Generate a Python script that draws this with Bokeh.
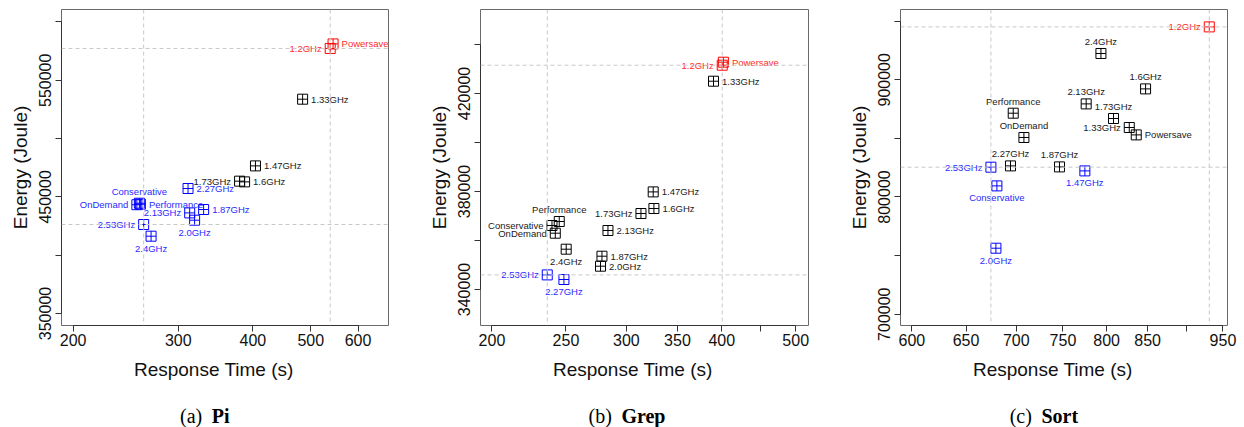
from bokeh.plotting import figure
from bokeh.layouts import row, column
from bokeh.models import Span, FixedTicker, ColumnDataSource, Range1d
from bokeh.embed import file_html
from bokeh.resources import INLINE
from bokeh.core.properties import value

# ---------------- data ----------------
# (a) Pi
pi_names = ["1.2GHz", "Powersave", "1.33GHz", "1.47GHz", "1.6GHz", "1.73GHz", "2.27GHz",
            "Conservative", "OnDemand", "Performance", "2.13GHz", "1.87GHz", "2.0GHz", "2.53GHz", "2.4GHz"]
pi_time = [539, 545, 484.6, 404, 387.4, 380, 311.5, 258.2, 255.7, 259.2, 313.5, 330.8, 319.5, 262.5, 270.1]
pi_energy = [577300, 581200, 533800, 476600, 462900, 463500, 457200, 444600, 443300, 443740,
             436280, 439190, 430020, 426330, 416300]
pi_group = ["r", "r", "k", "k", "k", "k", "b", "b", "b", "b", "b", "b", "b", "b", "b"]
pi_pos = [2, 4, 4, 4, 4, 2, 4, 3, 2, 4, 2, 4, 1, 2, 1]
pi_xticks = [200, 300, 400, 500, 600]
pi_xlabels = ["200", "300", "400", "500", "600"]
pi_yticks = [350000, 400000, 450000, 500000, 550000, 600000]
pi_ylabels = ["350000", "", "450000", "", "550000", ""]

# (b) Grep
grep_names = ["1.2GHz", "Powersave", "1.33GHz", "1.47GHz", "1.6GHz", "1.73GHz", "Performance",
              "Conservative", "OnDemand", "2.13GHz", "2.4GHz", "1.87GHz", "2.0GHz", "2.53GHz", "2.27GHz"]
grep_time = [400.6, 402.0, 390.2, 325.3, 326.0, 313.5, 245.0, 239.7, 242.1, 283.8, 250.2, 278.7, 277.5, 236.3, 248.5]
grep_energy = [431550, 432780, 425020, 379840, 373060, 371020, 367760, 366120, 362980, 364080,
               356450, 353590, 349510, 345960, 344080]
grep_group = ["r", "r", "k", "k", "k", "k", "k", "k", "k", "k", "k", "k", "k", "b", "b"]
grep_pos = [2, 4, 4, 4, 4, 2, 3, 2, 2, 4, 1, 4, 4, 2, 1]
grep_xticks = [200, 250, 300, 350, 400, 450, 500]
grep_xlabels = ["200", "250", "300", "350", "400", "", "500"]
grep_yticks = [340000, 360000, 380000, 400000, 420000, 440000]
grep_ylabels = ["340000", "", "380000", "", "420000", ""]

# (c) Sort
sort_names = ["1.2GHz", "2.4GHz", "1.6GHz", "2.13GHz", "1.73GHz", "1.33GHz", "Powersave", "Performance",
              "OnDemand", "2.27GHz", "2.53GHz", "Conservative", "1.87GHz", "1.47GHz", "2.0GHz"]
sort_time = [931, 793.3, 847.4, 776.2, 808.2, 827.2, 835.8, 696.9, 708.0, 694.1, 674.3, 680.3, 746.2, 774.7, 679.3]
sort_energy = [945130, 922440, 892240, 879440, 866980, 859300, 852990, 871500, 850770, 826540,
               825430, 809470, 825680, 822270, 756310]
sort_group = ["r", "k", "k", "k", "k", "k", "k", "k", "k", "k", "b", "b", "k", "b", "b"]
sort_pos = [2, 3, 3, 3, 3, 2, 4, 3, 3, 3, 2, 1, 3, 1, 1]
sort_xticks = [600, 650, 700, 750, 800, 850, 900, 950]
sort_xlabels = ["600", "650", "700", "750", "800", "850", "", "950"]
sort_yticks = [700000, 750000, 800000, 850000, 900000, 950000]
sort_ylabels = ["700000", "", "800000", "", "900000", ""]

# ---------------- style ----------------
MARK = {"r": "#ff0000", "k": "#000000", "b": "#0000ff"}
TXT = {"r": "#ff2a2a", "k": "#1a1a1a", "b": "#2a2aff"}
SANS = "Liberation Sans"
SERIF = "Liberation Serif"
TOP, FH, BOT = 9, 316, 28
CAP_H = 427 - (TOP + FH + BOT)


def panel(names, xs, ys, groups, poss, xticks, xlabels, yticks, ylabels,
          xr, yr, left, fw, right, cap_letter, cap_word, cap_x):
    p = figure(x_axis_type="log", x_range=Range1d(*xr), y_range=Range1d(*yr),
               frame_width=fw, frame_height=FH,
               min_border_left=left, min_border_right=right,
               min_border_top=TOP, min_border_bottom=BOT,
               toolbar_location=None, output_backend="svg",
               background_fill_color="white", border_fill_color="white")
    p.grid.grid_line_color = None
    p.outline_line_color = "#6a6a6a"
    p.outline_line_width = 1

    for ax, ticks, labels in ((p.xaxis[0], xticks, xlabels), (p.yaxis[0], yticks, ylabels)):
        ax.ticker = FixedTicker(ticks=ticks)
        ax.major_label_overrides = {t: l for t, l in zip(ticks, labels)}
        ax.bounds = (ticks[0], ticks[-1])
        ax.axis_line_color = "#333333"
        ax.major_tick_line_color = "#333333"
        ax.major_tick_in = 0
        ax.major_tick_out = 6
        ax.minor_tick_line_color = None
        ax.major_label_text_font = SANS
        ax.major_label_text_font_size = "16px"
        ax.major_label_text_color = "#111111"
    p.xaxis.major_label_standoff = 2
    p.yaxis.major_label_standoff = 4
    p.yaxis.major_label_orientation = "vertical"
    p.yaxis.axis_label = "Energy (Joule)"
    p.yaxis.axis_label_text_font = SANS
    p.yaxis.axis_label_text_font_size = "19px"
    p.yaxis.axis_label_text_font_style = "normal"
    p.yaxis.axis_label_text_color = "#111111"
    p.yaxis.axis_label_standoff = 6

    # reference lines through the 1.2GHz and 2.53GHz points
    for nm in ("1.2GHz", "2.53GHz"):
        i = names.index(nm)
        p.add_layout(Span(location=xs[i], dimension="height", line_color="#c8c8c8",
                          line_dash="4 3", line_width=1))
        p.add_layout(Span(location=ys[i], dimension="width", line_color="#c8c8c8",
                          line_dash="4 3", line_width=1))

    src = ColumnDataSource(dict(x=xs, y=ys, name=names, mc=[MARK[g] for g in groups]))
    p.scatter("x", "y", source=src, marker="square_cross", size=10,
              fill_color=None, line_color="mc", line_width=1)

    offs = {1: (0, 12, "center"), 2: (-8.5, 0, "right"), 3: (0, -12, "center"), 4: (8.5, 0, "left")}
    for code, (dx, dy, al) in offs.items():
        idx = [i for i, q in enumerate(poss) if q == code]
        if not idx:
            continue
        s = ColumnDataSource(dict(x=[xs[i] for i in idx], y=[ys[i] for i in idx],
                                  t=[names[i] for i in idx], c=[TXT[groups[i]] for i in idx]))
        p.text("x", "y", text="t", source=s, text_color="c",
               text_font=value(SANS), text_font_size=value("9.5px"),
               text_align=al, text_baseline="middle", x_offset=dx, y_offset=dy)

    # strip below (frame aligned with the panel frame): x-axis title and sub-caption
    c = figure(x_range=Range1d(0, fw), y_range=Range1d(CAP_H, 0),
               frame_width=fw, frame_height=CAP_H,
               min_border_left=left, min_border_right=right, min_border_top=0, min_border_bottom=0,
               x_axis_location=None, y_axis_location=None,
               toolbar_location=None, output_backend="svg",
               background_fill_color="white", border_fill_color="white")
    c.grid.grid_line_color = None
    c.outline_line_color = None
    c.text(x=[152.3], y=[15.6], text=["Response Time (s)"], text_font=value(SANS),
           text_font_size=value("19px"), text_align="center", text_baseline="alphabetic",
           text_color="#111111")
    c.text(x=[cap_x], y=[62], text=[cap_letter], text_font=value(SERIF),
           text_font_size=value("20px"), text_align="right", text_baseline="alphabetic",
           text_color="#000000")
    c.text(x=[cap_x + 9.5], y=[62], text=[cap_word], text_font=value(SERIF),
           text_font_size=value("20px"), text_font_style="bold", text_align="left",
           text_baseline="alphabetic", text_color="#000000")
    return column(p, c, spacing=0)


pa = panel(pi_names, pi_time, pi_energy, pi_group, pi_pos, pi_xticks, pi_xlabels, pi_yticks, pi_ylabels,
           (191.2, 674.9), (339710, 610720), 61, 327, 22, "(a)", "Pi", 140.7)
pb = panel(grep_names, grep_time, grep_energy, grep_group, grep_pos, grep_xticks, grep_xlabels,
           grep_yticks, grep_ylabels, (193.2, 519.7), (325306, 454290), 70, 328, 22, "(b)", "Grep", 131.4)
pc = panel(sort_names, sort_time, sort_energy, sort_group, sort_pos, sort_xticks, sort_xlabels,
           sort_yticks, sort_ylabels, (590, 956.4), (690360, 959980), 70, 327, 17, "(c)", "Sort", 131.4)

layout = row(pa, pb, pc, spacing=0)
open("out.html", "w").write(file_html(layout, INLINE))
